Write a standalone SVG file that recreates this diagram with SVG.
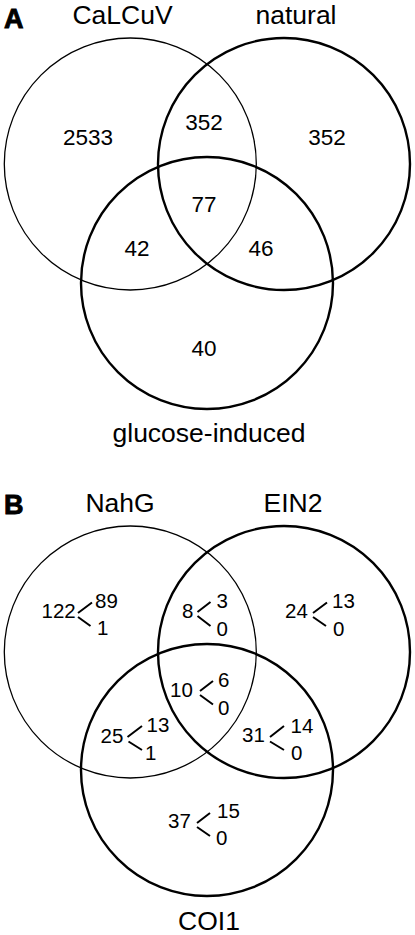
<svg xmlns="http://www.w3.org/2000/svg" width="415" height="935" viewBox="0 0 415 935">
<style>
.c{fill:none;stroke:#000}
.thin{stroke-width:1.3}
.thick{stroke-width:2.4}
text{font-family:"Liberation Sans",Arial,sans-serif;fill:#000}
.lbl{font-size:26.5px;text-anchor:middle}
.pl{font-size:27px;font-weight:bold;stroke:#000;stroke-width:0.9}
.na{font-size:22.5px;text-anchor:middle}
.nb{font-size:20.5px}
.br{stroke:#000;stroke-width:2;fill:none}
</style>
<rect width="415" height="935" fill="#fff"/>
<g id="panelA">
  <text class="pl" x="4" y="28">A</text>
  <g id="CaLCuV"><circle class="c thin" cx="130.3" cy="164" r="126"/><text class="lbl" x="122.5" y="24">CaLCuV</text></g>
  <g id="natural"><circle class="c thick" cx="284" cy="164" r="126"/><text class="lbl" x="296" y="24">natural</text></g>
  <g id="glucose-induced"><circle class="c thick" cx="207" cy="283" r="126"/><text class="lbl" x="209" y="442">glucose-induced</text></g>
  <g id="countsA">
    <text class="na" x="88" y="145">2533</text>
    <text class="na" x="204" y="130">352</text>
    <text class="na" x="327" y="145">352</text>
    <text class="na" x="204" y="212">77</text>
    <text class="na" x="137" y="256">42</text>
    <text class="na" x="261" y="256">46</text>
    <text class="na" x="204" y="356">40</text>
  </g>
</g>
<g id="panelB">
  <text class="pl" x="4" y="514">B</text>
  <g id="NahG"><circle class="c thin" cx="130.3" cy="652" r="126"/><text class="lbl" x="120" y="512">NahG</text></g>
  <g id="EIN2"><circle class="c thick" cx="284" cy="652" r="126"/><text class="lbl" x="293" y="512">EIN2</text></g>
  <g id="COI1"><circle class="c thick" cx="207" cy="770" r="126"/><text class="lbl" x="209" y="930">COI1</text></g>
  <g id="connectors">
    <path class="br" d="M78,613 L92,602.5 M78,617 L90.5,626"/>
    <path class="br" d="M197.5,612 L210.5,602 M197.5,616 L210.5,626"/>
    <path class="br" d="M313,613 L327,602.5 M313,617 L326,626"/>
    <path class="br" d="M200,691 L213,681 M200,695 L213,704.5"/>
    <path class="br" d="M127.5,737 L142,726 M128.5,741.5 L142,750"/>
    <path class="br" d="M270,737 L284,726 M270,741.5 L284,750"/>
    <path class="br" d="M197,823 L210,813 M197,827 L210,836"/>
  </g>
  <g id="countsB">
    <text class="nb" x="41.5" y="618.3">122</text>
    <text class="nb" x="95" y="607.5">89</text>
    <text class="nb" x="97" y="635">1</text>
    <text class="nb" x="182" y="618">8</text>
    <text class="nb" x="216.5" y="608">3</text>
    <text class="nb" x="216.5" y="635.5">0</text>
    <text class="nb" x="285" y="618">24</text>
    <text class="nb" x="332" y="608">13</text>
    <text class="nb" x="333" y="636">0</text>
    <text class="nb" x="170" y="697">10</text>
    <text class="nb" x="218" y="687">6</text>
    <text class="nb" x="218" y="714.5">0</text>
    <text class="nb" x="100.5" y="742.5">25</text>
    <text class="nb" x="146.5" y="732">13</text>
    <text class="nb" x="145" y="759.5">1</text>
    <text class="nb" x="242" y="742">31</text>
    <text class="nb" x="290.5" y="733">14</text>
    <text class="nb" x="291" y="760">0</text>
    <text class="nb" x="168" y="828">37</text>
    <text class="nb" x="217" y="818">15</text>
    <text class="nb" x="216" y="845">0</text>
  </g>
</g>
</svg>
